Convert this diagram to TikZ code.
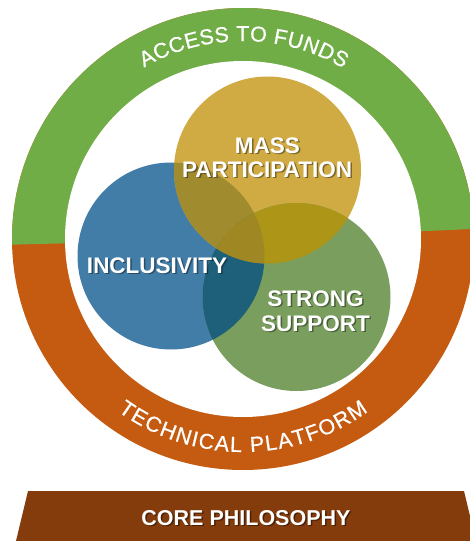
\documentclass[tikz,border=0pt]{standalone}
\usepackage{fontspec}
\setmainfont{Liberation Sans}
\newfontfamily\ringfamily[FakeBold=0.7]{Liberation Sans}
\usetikzlibrary{decorations.text,calc}
\definecolor{ringgreen}{HTML}{70AD47}
\definecolor{ringorange}{HTML}{C55A11}
\definecolor{bannerbrown}{HTML}{843C0C}
\definecolor{cblue}{HTML}{427DA8}
\definecolor{cgold}{HTML}{D0AA42}
\definecolor{cgreen}{HTML}{7A9E5E}
\definecolor{bluegold}{HTML}{A08B2E}
\definecolor{goldgreen}{HTML}{AD9518}
\definecolor{bluegreen}{HTML}{1E6079}
\definecolor{triplemix}{HTML}{9F8824}
\newcommand{\ringfont}{\ringfamily\fontsize{21.5}{21.5}\selectfont\color{white}}
\begin{document}
\begin{tikzpicture}[x=1pt,y=1pt,
  lbl/.style={font=\fontsize{22.5}{24}\selectfont\bfseries, text=white, inner sep=0pt, anchor=base},
  lblshadow/.style={lbl, text=black, text opacity=0.4},
  corelbl/.style={lbl, font=\fontsize{21.5}{24}\selectfont\bfseries},
  coreshadow/.style={corelbl, text=black, text opacity=0.45}]
\useasboundingbox (0,0) rectangle (470,-541);
\clip (0,0) rectangle (470,-541);
\coordinate (c) at (243,-239);
% ring
\fill[ringorange] (c) circle[radius=231];
\fill[ringgreen] (c) -- ($(c)+(2.5:231)$) arc[start angle=2.5,end angle=181.4,radius=231] -- cycle;
\fill[white] (c) circle[radius=178];
% ring texts
\path[decorate, decoration={text along path, text={|\ringfont|ACCESS TO FUNDS}, text align=fit to path}]
  ($(c)+(120:198)$) arc[start angle=120,end angle=59.5,radius=198];
\path[decorate, decoration={text along path, text={|\ringfont|TECHNICAL PLATFORM}, text align=fit to path}]
  ($(c)+(234:213)$) arc[start angle=234,end angle=306,radius=213];
% circles
\coordinate (b) at (171,-256);
\coordinate (g) at (267.5,-170);
\coordinate (s) at (296.5,-297);
\fill[cblue] (b) circle[radius=93.5];
\fill[cgold] (g) circle[radius=93.5];
\fill[cgreen] (s) circle[radius=94];
\begin{scope}
  \clip (b) circle[radius=93.5];
  \fill[bluegold] (g) circle[radius=93.5];
  \fill[bluegreen] (s) circle[radius=94];
\end{scope}
\begin{scope}
  \clip (g) circle[radius=93.5];
  \fill[goldgreen] (s) circle[radius=94];
  \clip (b) circle[radius=93.5];
  \fill[triplemix] (s) circle[radius=94];
\end{scope}
% circle labels
\node[lblshadow] at (269,-154.5) {MASS};
\node[lbl] (mass) at (267.5,-153) {MASS};
\node[lblshadow] at (268.5,-178.5) {PARTICIPATION};
\node[lbl] (participation) at (267,-177) {PARTICIPATION};
\node[lblshadow] at (158.5,-274.5) {INCLUSIVITY};
\node[lbl] (inclusivity) at (157,-273) {INCLUSIVITY};
\node[lblshadow] at (317,-307.5) {STRONG};
\node[lbl] (strong) at (315.5,-306) {STRONG};
\node[lblshadow] at (317,-332.5) {SUPPORT};
\node[lbl] (support) at (315.5,-331) {SUPPORT};
% banner
\fill[bannerbrown] (28,-491) -- (464,-491) -- (476,-541) -- (16,-541) -- cycle;
\node[coreshadow] at (247.5,-526.5) {CORE PHILOSOPHY};
\node[corelbl] (core) at (246,-525) {CORE PHILOSOPHY};
\end{tikzpicture}
\end{document}
